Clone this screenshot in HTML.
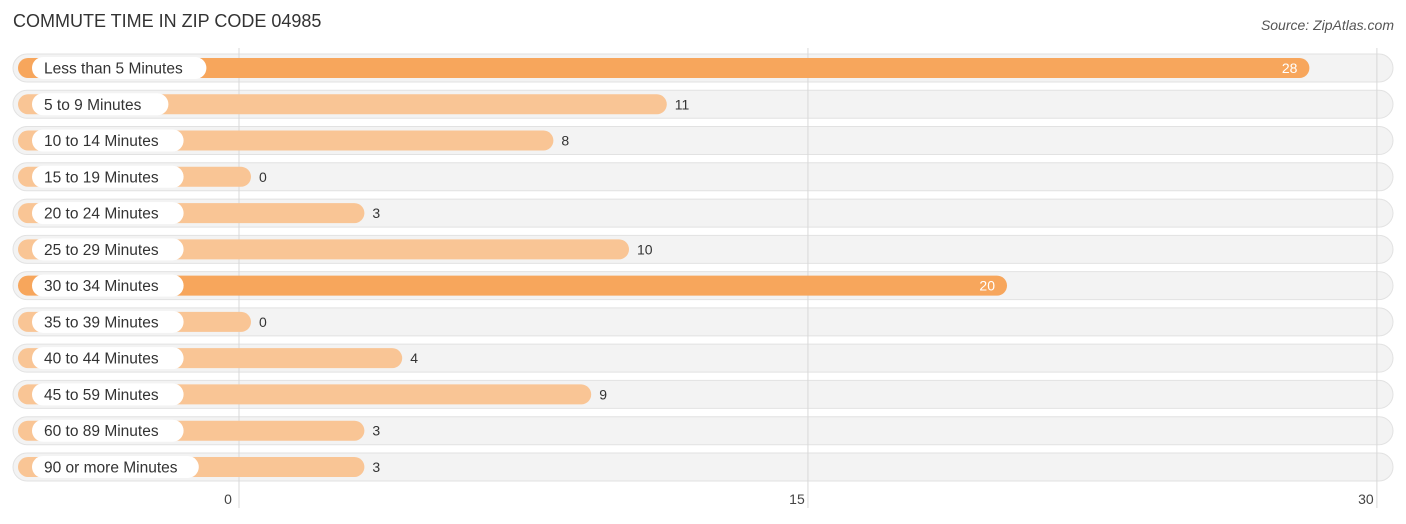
<!DOCTYPE html>
<html><head><meta charset="utf-8"><style>
body{margin:0;width:1406px;height:524px;background:#fff;font-family:"Liberation Sans",sans-serif;overflow:hidden;position:relative}
.title{position:absolute;left:13px;top:11px;font-size:18px;color:#333}
.src{position:absolute;right:12px;top:17px;font-size:14px;color:#555;font-style:italic}
</style></head><body>
<div class="title">COMMUTE TIME IN ZIP CODE 04985</div>
<div class="src">Source: ZipAtlas.com</div>
<svg id="chart" width="1406" height="524" style="position:absolute;left:0;top:0"></svg>
<script>
const categories=["Less than 5 Minutes","5 to 9 Minutes","10 to 14 Minutes","15 to 19 Minutes","20 to 24 Minutes","25 to 29 Minutes","30 to 34 Minutes","35 to 39 Minutes","40 to 44 Minutes","45 to 59 Minutes","60 to 89 Minutes","90 or more Minutes"];
const values=[28,11,8,0,3,10,20,0,4,9,3,3];
const ticks=[0,15,30];
const NS="http://www.w3.org/2000/svg";
const svg=document.getElementById('chart');
const gx=v=>239+v*37.93;
const bx=v=>251+v*37.8;
const ry=i=>68+i*36.27;
function mk(t,a){const e=document.createElementNS(NS,t);for(const k in a)e.setAttribute(k,a[k]);svg.appendChild(e);return e;}
categories.forEach((c,i)=>{
 const y=ry(i);
 const bg=mk('rect',{x:13,y:y-14,width:1380,height:28,rx:14,fill:'#f3f3f3',stroke:'#e2e2e2','stroke-width':1});
 
 
});
ticks.forEach(t=>{
 const l=mk('line',{x1:gx(t),x2:gx(t),y1:48,y2:508,stroke:'#d8d8d8','stroke-width':1});
 
 
 const tx=mk('text',{x:gx(t)-11,y:504,'text-anchor':'middle','font-size':14,fill:'#444'});
 tx.textContent=t;
 
 
});
const maxV=Math.max(...values);
categories.forEach((c,i)=>{
 const y=ry(i),v=values[i];
 const strong=v>=maxV*0.6;
 const b=mk('rect',{x:18,y:y-10,width:bx(v)-18,height:20,rx:10,fill:strong?'#f7a65c':'#f9c595'});
 
 
 const p=mk('rect',{x:32,y:y-11,width:c.length*7.6+30,height:22,rx:11,fill:'#fff'});
 
 
 const lt=mk('text',{x:44,y:y+5.5,'font-size':15.5,fill:'#333'});
 lt.textContent=c;
 
 
 const vt=mk('text',{x:strong?bx(v)-12:bx(v)+8,y:y+5,'font-size':14,fill:strong?'#fff':'#333','text-anchor':strong?'end':'start'});
 vt.textContent=v;
 
 
});
</script>
</body></html>
